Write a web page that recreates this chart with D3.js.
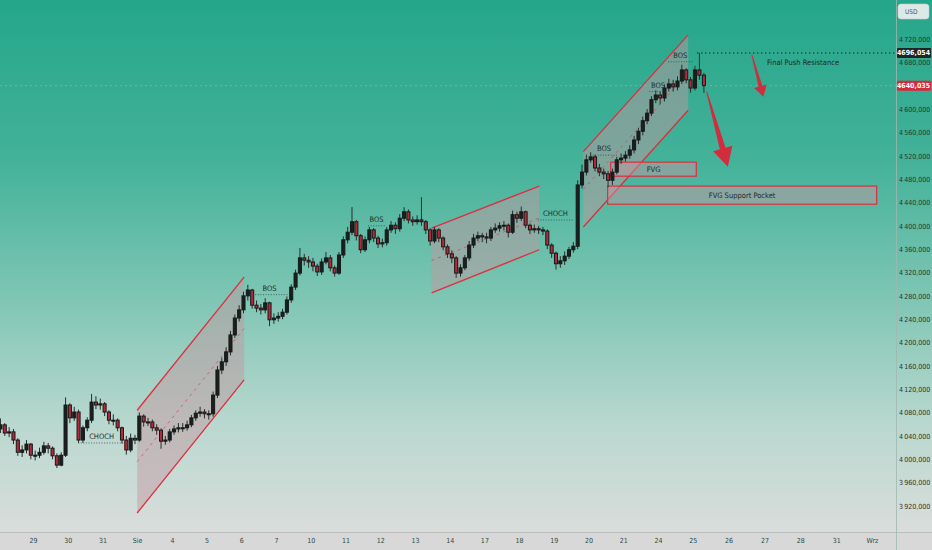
<!DOCTYPE html>
<html>
<head>
<meta charset="utf-8">
<script src="https://cdn.jsdelivr.net/npm/d3@7"></script>
<style>
  body { margin: 0; overflow: hidden; background: #d8d8d8; }
  svg { display: block; }
</style>
</head>
<body>
<svg width="932" height="550"></svg>
<script>
// trading days, index 0 = 28 Jul, 4 = 3 Aug ("Sie"), 25 = 1 Sep ("Wrz")
const dayLabels = ["28","29","30","31","Sie","4","5","6","7","10","11","12","13","14",
                   "17","18","19","20","21","24","25","26","27","28","31","Wrz"];
const barsPerDay = 8;
const firstOpen = 4052;

const closes = [
  4059,4045,4047,4033,4012,4016,4026,4007,
  4007,4012,4023,4019,4006,3990,4007,4093,
  4071,4081,4033,4054,4067,4098,4093,4095,
  4081,4067,4067,4054,4033,4016,4036,4033,
  4074,4064,4064,4054,4050,4031,4033,4047,
  4052,4054,4054,4059,4071,4079,4081,4078,
  4078,4110,4153,4167,4184,4213,4242,4256,
  4280,4290,4264,4259,4256,4268,4239,4242,
  4245,4252,4273,4295,4319,4345,4341,4338,
  4331,4321,4338,4345,4328,4319,4350,4376,
  4389,4407,4383,4359,4376,4393,4379,4369,
  4371,4393,4401,4395,4413,4424,4410,4407,
  4410,4407,4393,4374,4393,4379,4364,4352,
  4345,4319,4328,4345,4367,4379,4383,4381,
  4379,4393,4396,4400,4401,4389,4419,4413,
  4424,4401,4393,4395,4393,4391,4367,4353,
  4335,4340,4348,4359,4365,4470,4492,4513,
  4518,4499,4492,4489,4478,4492,4513,4516,
  4521,4530,4547,4562,4580,4593,4616,4624,
  4619,4636,4643,4638,4648,4667,4650,4636,
  4667,4658,4640.035
];
const highs = [
  4070,4062,4055,4052,4036,4024,4033,4028,
  4015,4020,4030,4028,4022,4010,4012,4106,
  4096,4090,4085,4058,4072,4112,4108,4104,
  4098,4084,4077,4070,4056,4040,4044,4042,
  4080,4077,4071,4068,4060,4053,4040,4052,
  4058,4062,4062,4066,4076,4084,4090,4086,
  4084,4116,4160,4174,4192,4220,4248,4264,
  4287,4299,4292,4272,4266,4276,4270,4250,
  4252,4258,4279,4300,4325,4362,4352,4348,
  4345,4335,4344,4355,4350,4332,4355,4382,
  4398,4432,4410,4386,4382,4398,4396,4383,
  4378,4398,4408,4406,4420,4432,4428,4416,
  4418,4449,4410,4396,4398,4396,4382,4368,
  4358,4348,4334,4350,4374,4386,4390,4388,
  4388,4398,4404,4406,4408,4404,4426,4424,
  4433,4426,4404,4402,4400,4398,4394,4370,
  4356,4348,4356,4364,4372,4478,4505,4522,
  4526,4522,4506,4498,4494,4498,4518,4524,
  4528,4538,4554,4568,4587,4600,4622,4632,
  4630,4642,4652,4650,4656,4676,4670,4655,
  4674,4696.054,4662
];
const lows = [
  4045,4040,4038,4026,4006,4004,4010,4000,
  3998,4002,4008,4010,4000,3985,3988,4004,
  4062,4066,4028,4028,4048,4062,4086,4085,
  4074,4060,4058,4048,4027,4008,4012,4026,
  4030,4056,4057,4048,4042,4018,4025,4029,
  4042,4046,4047,4049,4055,4066,4073,4070,
  4068,4073,4105,4146,4160,4178,4208,4236,
  4250,4272,4258,4252,4248,4250,4228,4232,
  4236,4240,4248,4268,4290,4315,4332,4328,
  4322,4314,4316,4334,4322,4313,4316,4345,
  4370,4384,4375,4353,4355,4370,4372,4362,
  4363,4366,4388,4386,4390,4408,4404,4400,
  4402,4400,4386,4366,4370,4372,4358,4345,
  4336,4311,4313,4324,4340,4362,4374,4372,
  4370,4374,4388,4390,4392,4380,4386,4405,
  4408,4396,4386,4388,4386,4384,4360,4345,
  4325,4328,4333,4343,4354,4360,4464,4486,
  4508,4493,4485,4480,4466,4470,4488,4506,
  4510,4515,4524,4540,4555,4574,4588,4610,
  4608,4613,4630,4630,4632,4643,4644,4628,
  4632,4650,4628
];

const priceTicks = [3920,3960,4000,4040,4080,4120,4160,4200,4240,4280,
                    4320,4360,4400,4440,4480,4520,4560,4600,4680,4720];
const lastPrice = 4640.035;
const resistance = 4696.054;

// parallel channels: time in trading-day units, prices at both ends
const channels = [
  { t1: 4.0,   t2: 7.08,  top: [4084, 4312], bottom: [3908, 4136] },
  { t1: 12.48, t2: 15.58, top: [4396, 4468], bottom: [4285, 4359] },
  { t1: 16.85, t2: 19.87, top: [4527, 4727], bottom: [4398, 4598] }
];
const zones = [
  { label: "FVG",                t1: 17.64, t2: 20.1,  top: 4509, bottom: 4485 },
  { label: "FVG Support Pocket", t1: 17.55, t2: 25.13, top: 4468, bottom: 4437 }
];
const structure = [
  { label: "CHOCH", t1: 2.30,  t2: 3.65,  price: 4028 },
  { label: "BOS",   t1: 7.25,  t2: 8.37,  price: 4282 },
  { label: "BOS",   t1: 10.65, t2: 11.14, price: 4400 },
  { label: "CHOCH", t1: 15.54, t2: 16.55, price: 4410 },
  { label: "BOS",   t1: 17.04, t2: 17.85, price: 4521 },
  { label: "BOS",   t1: 18.75, t2: 19.25, price: 4630 },
  { label: "BOS",   t1: 19.29, t2: 20.0,  price: 4681 }
];
const arrows = [
  { t1: 20.39, p1: 4630, t2: 20.98, p2: 4501, head: 19, half: 10 },
  { t1: 21.65, p1: 4693, t2: 21.97, p2: 4621, head: 11, half: 6.5 }
];

const W = 932, H = 550;
const plotRight = 896, plotBottom = 532;
const font = "'Liberation Sans Narrow','DejaVu Sans Condensed','Roboto Condensed',sans-serif";
const red = "#dc2f40";

let svg = d3.select("svg");

let x = d3.scaleLinear().domain([1, 20, 25]).range([33, 692.7, 872]);
let y = d3.scaleLinear().domain([3920, 4720]).range([506, 39]);

let defs = svg.append("defs");
let grad = defs.append("linearGradient").attr("id", "bg")
    .attr("x1", 0).attr("y1", 0).attr("x2", 0).attr("y2", 1);
[[0, "#24a68a"], [0.3, "#43b299"], [0.55, "#7cc5b3"], [0.8, "#bad8cf"], [1, "#d9dddc"]]
    .forEach(function(s) { grad.append("stop").attr("offset", s[0]).attr("stop-color", s[1]); });
defs.append("clipPath").attr("id", "clip")
    .append("rect").attr("width", plotRight).attr("height", plotBottom);

svg.append("rect").attr("width", W).attr("height", plotBottom).attr("fill", "url(#bg)");
svg.append("rect").attr("y", plotBottom).attr("width", W).attr("height", H - plotBottom).attr("fill", "#d8d8d8");
svg.append("line").attr("x1", 0).attr("x2", W).attr("y1", plotBottom + 0.5).attr("y2", plotBottom + 0.5)
    .attr("stroke", "#bdbdbd");
svg.append("line").attr("x1", plotRight + 0.5).attr("x2", plotRight + 0.5).attr("y1", 0).attr("y2", H)
    .attr("stroke", "#9fb8b1").attr("stroke-width", 0.8);

let plot = svg.append("g").attr("clip-path", "url(#clip)");

// last price line
plot.append("line")
    .attr("x1", 0).attr("x2", plotRight)
    .attr("y1", y(lastPrice)).attr("y2", y(lastPrice))
    .attr("stroke", "rgba(235,140,145,0.7)")
    .attr("stroke-dasharray", "2,3");

// channels
let ch = plot.selectAll("g.channel").data(channels).enter().append("g").attr("class", "channel");
ch.append("polygon")
    .attr("points", function(d) {
        return [[x(d.t1), y(d.top[0])], [x(d.t2), y(d.top[1])],
                [x(d.t2), y(d.bottom[1])], [x(d.t1), y(d.bottom[0])]].join(" ");
    })
    .attr("fill", "rgba(195,150,160,0.47)");
ch.append("line")
    .attr("x1", function(d) { return x(d.t1); }).attr("y1", function(d) { return y((d.top[0] + d.bottom[0]) / 2); })
    .attr("x2", function(d) { return x(d.t2); }).attr("y2", function(d) { return y((d.top[1] + d.bottom[1]) / 2); })
    .attr("stroke", "rgba(220,50,65,0.6)").attr("stroke-width", 1).attr("stroke-dasharray", "3,4");
["top", "bottom"].forEach(function(k) {
    ch.append("line")
        .attr("x1", function(d) { return x(d.t1); }).attr("y1", function(d) { return y(d[k][0]); })
        .attr("x2", function(d) { return x(d.t2); }).attr("y2", function(d) { return y(d[k][1]); })
        .attr("stroke", red).attr("stroke-width", 1.3);
});

// fvg zones
let zn = plot.selectAll("g.zone").data(zones).enter().append("g").attr("class", "zone");
zn.append("rect")
    .attr("x", function(d) { return x(d.t1); })
    .attr("y", function(d) { return y(d.top); })
    .attr("width", function(d) { return x(d.t2) - x(d.t1); })
    .attr("height", function(d) { return y(d.bottom) - y(d.top); })
    .attr("fill", "rgba(195,150,160,0.5)")
    .attr("stroke", red).attr("stroke-width", 1.2);
zn.append("text")
    .attr("x", function(d) { return (x(d.t1) + x(d.t2)) / 2; })
    .attr("y", function(d) { return (y(d.top) + y(d.bottom)) / 2; })
    .attr("dy", "0.35em")
    .attr("text-anchor", "middle")
    .style("font-family", font).style("font-size", "7.5px").attr("fill", "#1e2a28")
    .text(function(d) { return d.label; });

// candles
let candles = closes.map(function(c, i) {
    return { i: i, o: i ? closes[i - 1] : firstOpen, c: c, h: highs[i], l: lows[i] };
});
let step = (x(2) - x(1)) / barsPerDay;
let bodyW = step * 0.7;
let cx = function(d) { return x(Math.floor(d.i / barsPerDay) + (d.i % barsPerDay + 0.5) / barsPerDay); };

let cg = plot.append("g").attr("id", "candles");
cg.selectAll("line").data(candles).enter().append("line")
    .attr("x1", cx).attr("x2", cx)
    .attr("y1", function(d) { return y(d.h); })
    .attr("y2", function(d) { return y(d.l); })
    .attr("stroke", "#27302d").attr("stroke-width", 1);
cg.selectAll("rect").data(candles).enter().append("rect")
    .attr("x", function(d) { return cx(d) - bodyW / 2; })
    .attr("y", function(d) { return y(Math.max(d.o, d.c)); })
    .attr("width", bodyW)
    .attr("height", function(d) { return Math.max(1, Math.abs(y(d.o) - y(d.c))); })
    .attr("fill", function(d) { return d.c >= d.o ? "#1b1f1e" : "#b8283a"; })
    .attr("stroke", "#151918").attr("stroke-width", 1);

// structure labels
let st = plot.selectAll("g.struct").data(structure).enter().append("g").attr("class", "struct");
st.append("line")
    .attr("x1", function(d) { return x(d.t1); }).attr("x2", function(d) { return x(d.t2); })
    .attr("y1", function(d) { return y(d.price); }).attr("y2", function(d) { return y(d.price); })
    .attr("stroke", "rgba(40,60,55,0.7)").attr("stroke-dasharray", "1,1.6");
st.append("text")
    .attr("x", function(d) { return (x(d.t1) + x(d.t2)) / 2; })
    .attr("y", function(d) { return y(d.price) - 4; })
    .attr("text-anchor", "middle")
    .style("font-family", font).style("font-size", "7.5px").attr("fill", "#22302d")
    .text(function(d) { return d.label; });

// resistance
plot.append("line")
    .attr("x1", x(20.12)).attr("x2", plotRight)
    .attr("y1", y(resistance)).attr("y2", y(resistance))
    .attr("stroke", "#1d2422").attr("stroke-width", 1.2).attr("stroke-dasharray", "1.4,2.6");
plot.append("text")
    .attr("x", x(22.07)).attr("y", y(4680)).attr("dy", "0.35em")
    .style("font-family", font).style("font-size", "7.5px").attr("fill", "#1e2a28")
    .text("Final Push Resistance");

// arrows
plot.selectAll("polygon.arrow").data(arrows).enter().append("polygon")
    .attr("class", "arrow")
    .attr("points", function(d) {
        let ax = x(d.t1), ay = y(d.p1), bx = x(d.t2), by = y(d.p2);
        let len = Math.hypot(bx - ax, by - ay);
        let ux = (bx - ax) / len, uy = (by - ay) / len;
        let nx = -uy, ny = ux;
        let hx = bx - ux * d.head, hy = by - uy * d.head;
        let w0 = 0.5, w1 = d.half * 0.3;
        return [
            [ax + nx * w0, ay + ny * w0], [hx + nx * w1, hy + ny * w1],
            [hx + nx * d.half, hy + ny * d.half], [bx, by],
            [hx - nx * d.half, hy - ny * d.half], [hx - nx * w1, hy - ny * w1],
            [ax - nx * w0, ay - ny * w0]
        ].join(" ");
    })
    .attr("fill", "#d12d3e");

// price axis
let fmt = d3.formatLocale({ decimal: ",", thousands: "\u2009", grouping: [3], currency: ["", ""] }).format(",.3f");
let yAxis = d3.axisRight(y).tickValues(priceTicks).tickSize(0).tickPadding(3).tickFormat(fmt);
let yGroup = svg.append("g").attr("id", "y-axis").attr("transform", "translate(" + plotRight + ",0)").call(yAxis);
yGroup.select(".domain").remove();
yGroup.selectAll("text").style("font-family", font).style("font-size", "7px").attr("fill", "#2b3331");

// time axis
let xAxis = d3.axisBottom(x).tickValues(d3.range(1, 26)).tickSize(0).tickPadding(6)
    .tickFormat(function(d) { return dayLabels[d]; });
let xGroup = svg.append("g").attr("id", "x-axis").attr("transform", "translate(0," + plotBottom + ")").call(xAxis);
xGroup.select(".domain").remove();
xGroup.selectAll("text").style("font-family", font).style("font-size", "7px").attr("fill", "#2f4a44");

// price badges
[[resistance, "#1f2426"], [lastPrice, "#d8283b"]].forEach(function(b) {
    let g = svg.append("g").attr("transform", "translate(" + (plotRight + 1) + "," + y(b[0]) + ")");
    g.append("rect").attr("x", 0).attr("y", -5).attr("width", 34).attr("height", 10).attr("rx", 1).attr("fill", b[1]);
    g.append("text").attr("x", 16.5).attr("dy", "0.35em").attr("text-anchor", "middle")
        .style("font-family", font).style("font-size", "7px").style("font-weight", "bold")
        .attr("fill", "#ffffff").text(fmt(b[0]).replace("\u2009", ""));
});

// currency box
svg.append("rect").attr("x", 898).attr("y", 4).attr("width", 31).attr("height", 15).attr("rx", 3)
    .attr("fill", "rgba(240,242,241,0.9)").attr("stroke", "#c9cfcd").attr("stroke-width", 0.6);
svg.append("text").attr("x", 905).attr("y", 11.5).attr("dy", "0.35em")
    .style("font-family", font).style("font-size", "6.5px").attr("fill", "#555")
    .text("USD");
</script>
</body>
</html>
